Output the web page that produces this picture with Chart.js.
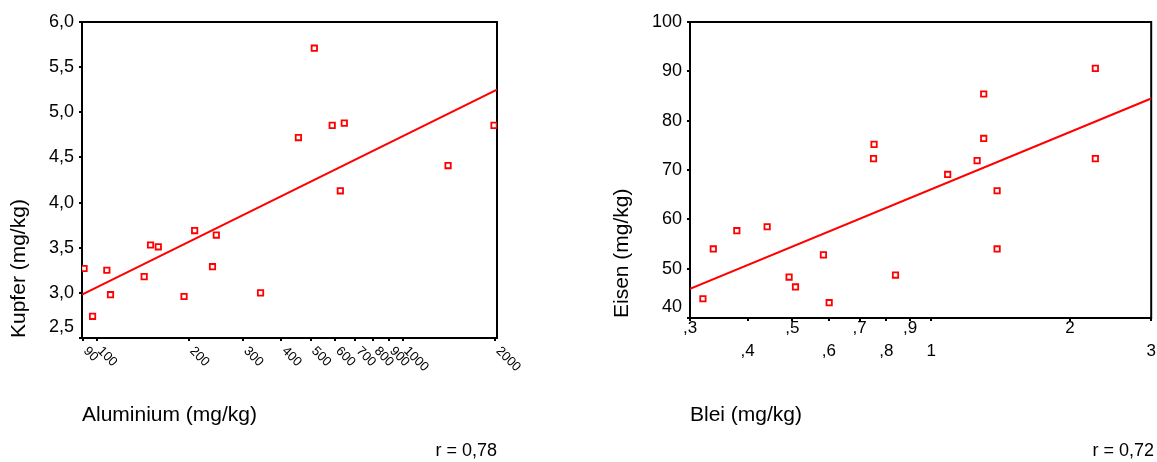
<!DOCTYPE html>
<html>
<head>
<meta charset="utf-8">
<script src="https://cdn.jsdelivr.net/npm/chart.js@4.4.1/dist/chart.umd.min.js"></script>
<style>
  html, body { margin: 0; padding: 0; background: #fff; }
  #left { position: absolute; left: 0; top: 0; }
  #right { position: absolute; left: 578px; top: 0; }
</style>
</head>
<body>
<canvas id="left" width="578" height="462"></canvas>
<canvas id="right" width="579" height="462"></canvas>
<script>
// Kupfer gegen Aluminium
const alValues = [91, 97, 108, 111, 143, 150, 159, 193, 209, 239, 246, 343, 456, 514, 588, 625, 644, 1405, 1985];
const cuValues = [3.27, 2.74, 3.25, 2.98, 3.18, 3.53, 3.51, 2.96, 3.69, 3.29, 3.64, 3.0, 4.72, 5.71, 4.855, 4.13, 4.88, 4.41, 4.855];
const alTicks = [90, 100, 200, 300, 400, 500, 600, 700, 800, 900, 1000, 2000];
const alTickLabels = ["90", "100", "200", "300", "400", "500", "600", "700", "800", "900", "1000", "2000"];
const cuTicks = [2.5, 3.0, 3.5, 4.0, 4.5, 5.0, 5.5, 6.0];
const cuTickLabels = ["2,5", "3,0", "3,5", "4,0", "4,5", "5,0", "5,5", "6,0"];
const alFit = [89.6, 2030];
const cuFit = [2.98, 5.25];

// Eisen gegen Blei
const pbValues = [0.32, 0.337, 0.379, 0.441, 0.492, 0.508, 0.584, 0.601, 0.75, 0.752, 0.837, 1.086, 1.258, 1.30, 1.30, 1.39, 1.39, 2.27, 2.27];
const feValues = [43.9, 54.0, 57.7, 58.5, 48.3, 46.3, 52.8, 43.1, 72.3, 75.2, 48.7, 69.1, 71.9, 85.4, 76.4, 65.8, 54.0, 90.6, 72.3];
const pbTicks = [0.3, 0.4, 0.5, 0.6, 0.7, 0.8, 0.9, 1, 2, 3];
const pbTickLabels = [",3", ",4", ",5", ",6", ",7", ",8", ",9", "1", "2", "3"];
const feTicks = [40, 50, 60, 70, 80, 90, 100];
const feTickLabels = ["40", "50", "60", "70", "80", "90", "100"];
const pbFit = [0.3, 3];
const feFit = [45.9, 84.5];

Chart.defaults.font.family = '"Liberation Sans", Arial, sans-serif';
Chart.defaults.color = "#000";

// box round the plot area
const frame = {
  id: "frame",
  beforeDatasetsDraw(chart) {
    const { ctx, chartArea: a } = chart;
    ctx.save();
    ctx.strokeStyle = "#000";
    ctx.lineWidth = 2;
    ctx.strokeRect(a.left, a.top, a.right - a.left, a.bottom - a.top);
    ctx.restore();
  }
};

// slanted x labels, running down to the right from each tick
const slantTicks = {
  id: "slantTicks",
  afterDraw(chart) {
    if (chart.canvas.id !== "left") return;
    const x = chart.scales.x;
    const ctx = chart.ctx;
    ctx.save();
    ctx.font = '13px "Liberation Sans", Arial, sans-serif';
    ctx.fillStyle = "#000";
    ctx.textAlign = "left";
    ctx.textBaseline = "middle";
    x.ticks.forEach(t => {
      const px = x.getPixelForValue(t.value);
      ctx.save();
      ctx.translate(px + 3, x.top + 11);
      ctx.rotate(Math.PI / 4);
      ctx.fillText(t.label, 0, 0);
      ctx.restore();
    });
    ctx.restore();
  }
};

function makeChart(id, o) {
  const points = o.xs.map((x, i) => ({ x: x, y: o.ys[i] }));
  return new Chart(document.getElementById(id), {
    type: "scatter",
    data: {
      datasets: [
        {
          data: points,
          pointStyle: "rect",
          pointRadius: 3.8,
          pointBorderWidth: 1.8,
          pointBorderColor: "#ff0000",
          pointBackgroundColor: "#ffffff",
          order: 0
        },
        {
          type: "line",
          data: [{ x: o.fitX[0], y: o.fitY[0] }, { x: o.fitX[1], y: o.fitY[1] }],
          borderColor: "#ff0000",
          borderWidth: 2,
          pointRadius: 0,
          fill: false,
          order: 1
        }
      ]
    },
    options: {
      responsive: false,
      animation: false,
      layout: { padding: { top: 22, right: o.padRight, left: 0, bottom: 0 } },
      plugins: {
        legend: { display: false },
        tooltip: { enabled: false },
        title: {
          display: true,
          position: "bottom",
          align: "end",
          text: o.r,
          font: { size: 18, weight: "normal" },
          padding: 0,
          color: "#000"
        }
      },
      scales: {
        x: {
          type: "logarithmic",
          position: "bottom",
          min: o.xMin,
          max: o.xMax,
          afterBuildTicks: s => { s.ticks = o.xTicks.map(v => ({ value: v })); },
          afterFit: s => { s.height = o.xHeight; },
          border: { display: false },
          grid: { drawOnChartArea: false, drawTicks: true, tickLength: 3, lineWidth: 2, color: "#000" },
          ticks: {
            display: o.xTicksShown,
            autoSkip: false,
            maxRotation: 0,
            minRotation: 0,
            padding: -4,
            font: { size: 17, lineHeight: 1.353 },
            callback: (v, i) => o.xLabel(i)
          },
          title: {
            display: true,
            text: o.xTitle,
            align: "start",
            font: { size: 21 },
            padding: { top: 0, bottom: 13 }
          }
        },
        y: {
          type: "linear",
          min: o.yTicks[0],
          max: o.yTicks[o.yTicks.length - 1],
          afterBuildTicks: s => { s.ticks = o.yTicks.map(v => ({ value: v })); },
          afterFit: s => { s.width = o.yWidth; },
          border: { display: false },
          grid: { drawOnChartArea: false, drawTicks: true, tickLength: 3, lineWidth: 2, color: "#000" },
          ticks: {
            autoSkip: false,
            padding: 5,
            font: { size: 18 },
            callback: (v, i) => (i === 0 ? [o.yLabels[i], ""] : o.yLabels[i])
          },
          title: {
            display: true,
            text: o.yTitle,
            align: "start",
            font: { size: 21 },
            padding: { top: o.yTitlePad, bottom: 0 }
          }
        }
      }
    },
    plugins: [frame, slantTicks]
  });
}

makeChart("left", {
  xs: alValues, ys: cuValues, fitX: alFit, fitY: cuFit,
  xMin: 89.6, xMax: 2030, xTicks: alTicks, xTicksShown: false,
  xLabel: i => alTickLabels[i],
  yTicks: cuTicks, yLabels: cuTickLabels,
  xTitle: "Aluminium (mg/kg)", yTitle: "Kupfer (mg/kg)",
  r: "r = 0,78", padRight: 81, xHeight: 102.4, yWidth: 82, yTitlePad: 7
});

makeChart("right", {
  xs: pbValues, ys: feValues, fitX: pbFit, fitY: feFit,
  xMin: 0.3, xMax: 3, xTicks: pbTicks, xTicksShown: true,
  xLabel: i => (i % 2 === 0 && i < 8) || i === 8 ? pbTickLabels[i] : ["", pbTickLabels[i]],
  yTicks: feTicks, yLabels: feTickLabels,
  xTitle: "Blei (mg/kg)", yTitle: "Eisen (mg/kg)",
  r: "r = 0,72", padRight: 3, xHeight: 122.4, yWidth: 112, yTitlePad: 32
});
</script>
</body>
</html>
